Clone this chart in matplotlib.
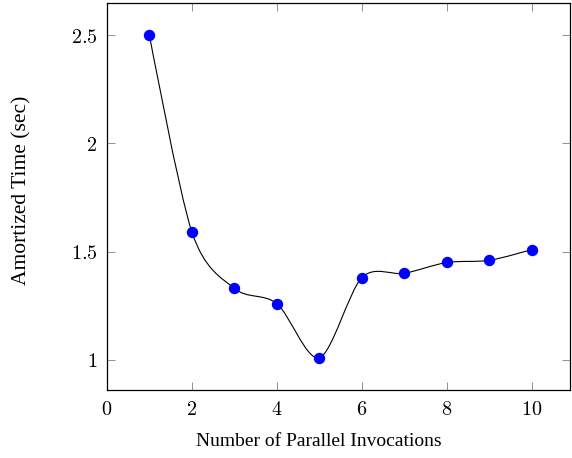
import numpy as np
import matplotlib
matplotlib.use("Agg")
import matplotlib.pyplot as plt
from matplotlib.path import Path
from matplotlib.patches import PathPatch

invocations = [1, 2, 3, 4, 5, 6, 7, 8, 9, 10]
amortized_time = [2.50, 1.59, 1.33, 1.26, 1.01, 1.38, 1.40, 1.45, 1.46, 1.51]
x_ticks = [0, 2, 4, 6, 8, 10]
y_ticks = [1, 1.5, 2, 2.5]
y_tick_labels = ["1", "1.5", "2", "2.5"]

plt.rcParams["mathtext.fontset"] = "cm"

fig = plt.figure(figsize=(5.72, 4.58), dpi=100)
ax = fig.add_axes([0.187, 0.1485, 0.8095, 0.845])


def smooth_path(xs, ys, k=0.15):
    pts = np.column_stack([xs, ys]).astype(float)
    n = len(pts)
    tang = np.zeros_like(pts)
    for i in range(1, n - 1):
        tang[i] = k * (pts[i + 1] - pts[i - 1])
    verts = [pts[0]]
    codes = [Path.MOVETO]
    for i in range(n - 1):
        c1 = pts[i] + tang[i]
        c2 = pts[i + 1] - tang[i + 1]
        verts += [c1, c2, pts[i + 1]]
        codes += [Path.CURVE4] * 3
    return Path(verts, codes)


path = smooth_path(invocations, amortized_time)
ax.add_patch(PathPatch(path, facecolor="none", edgecolor="black", lw=0.8, zorder=2))
ax.plot(invocations, amortized_time, linestyle="none", marker="o",
        markersize=7.2, color="#0000ff", zorder=3)

ax.set_xlim(0, 10.9)
ax.set_ylim(0.861, 2.649)
ax.set_xticks(x_ticks)
ax.set_xticklabels([f"${t}$" for t in x_ticks])
ax.set_yticks(y_ticks)
ax.set_yticklabels([f"${t}$" for t in y_tick_labels])

ax.tick_params(direction="in", top=True, right=True, length=6, width=0.6,
               color="#808080", labelsize=14.5, pad=7)
for s in ax.spines.values():
    s.set_linewidth(0.9)
    s.set_color("black")

xl = ax.set_xlabel("Number of Parallel Invocations", family="Liberation Serif",
                   fontsize=14)
yl = ax.set_ylabel("Amortized Time (sec)", family="Liberation Serif",
                   fontsize=15.5)
xl.set_va("center")
yl.set_va("center")
ax.xaxis.set_label_coords(0.458, -0.132)
ax.yaxis.set_label_coords(-0.183, 0.515)

fig.savefig("out.png", dpi=100)
